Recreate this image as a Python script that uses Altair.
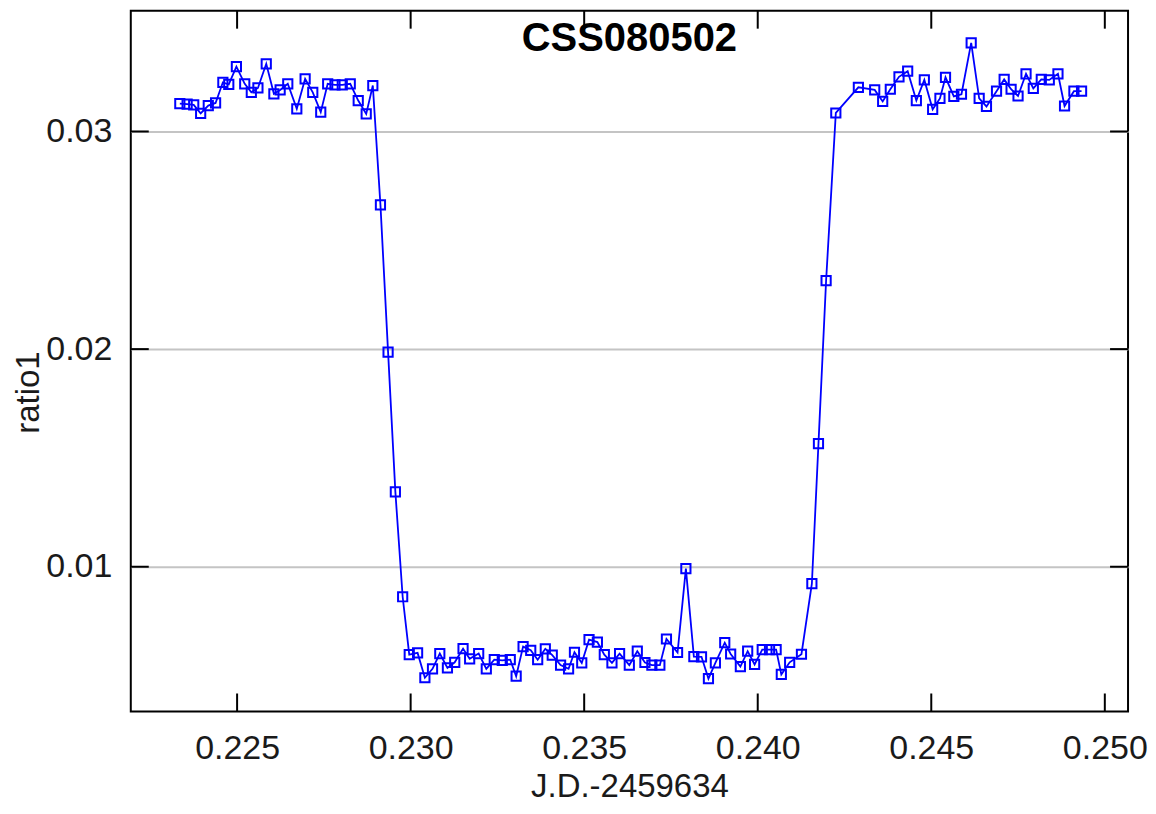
import altair as alt
import pandas as pd

# ---- data ----
jd = [
    0.22335, 0.22356, 0.22375, 0.22395, 0.22417, 0.22438, 0.22459, 0.22476, 0.22498, 0.22522,
    0.22541, 0.22560, 0.22584, 0.22606, 0.22624, 0.22646, 0.22672, 0.22696, 0.22718, 0.22741,
    0.22761, 0.22782, 0.22803, 0.22826, 0.22849, 0.22872, 0.22891,
    0.22913, 0.22935, 0.22956, 0.22977,
    0.22996, 0.23020, 0.23041, 0.23063, 0.23084, 0.23106, 0.23127, 0.23151, 0.23170, 0.23196,
    0.23218, 0.23241, 0.23264, 0.23287, 0.23304, 0.23324, 0.23346, 0.23366, 0.23388, 0.23408,
    0.23432, 0.23455, 0.23472, 0.23493, 0.23514, 0.23538, 0.23558, 0.23580, 0.23602, 0.23630,
    0.23653, 0.23675, 0.23695, 0.23718, 0.23737, 0.23769, 0.23793, 0.23816, 0.23838, 0.23858,
    0.23878, 0.23905, 0.23922, 0.23950, 0.23971, 0.23991, 0.24013, 0.24034, 0.24053, 0.24068,
    0.24092, 0.24126,
    0.24156, 0.24175, 0.24197, 0.24225,
    0.24290, 0.24337, 0.24360, 0.24382, 0.24407, 0.24432, 0.24457, 0.24480, 0.24504, 0.24525,
    0.24541, 0.24565, 0.24587, 0.24615, 0.24638, 0.24659, 0.24688, 0.24710, 0.24730, 0.24750,
    0.24773, 0.24794, 0.24817, 0.24840, 0.24865, 0.24884, 0.24911, 0.24933,
]
ratio1 = [
    0.03128, 0.03126, 0.03122, 0.03083, 0.03119, 0.03131, 0.03226, 0.03216, 0.03298, 0.03219,
    0.03180, 0.03200, 0.03311, 0.03173, 0.03191, 0.03219, 0.03104, 0.03242, 0.03180, 0.03089,
    0.03219, 0.03214, 0.03214, 0.03219, 0.03142, 0.03081, 0.03211,
    0.02663, 0.01986, 0.01344, 0.00862,
    0.00596, 0.00604, 0.00490, 0.00531, 0.00601, 0.00535, 0.00561, 0.00624, 0.00577, 0.00601,
    0.00531, 0.00573, 0.00570, 0.00573, 0.00497, 0.00633, 0.00616, 0.00573, 0.00623, 0.00594,
    0.00548, 0.00531, 0.00607, 0.00558, 0.00665, 0.00654, 0.00596, 0.00558, 0.00601, 0.00548,
    0.00612, 0.00560, 0.00548, 0.00548, 0.00668, 0.00606, 0.00991, 0.00587, 0.00586, 0.00486,
    0.00558, 0.00651, 0.00599, 0.00541, 0.00612, 0.00551, 0.00619, 0.00619, 0.00619, 0.00505,
    0.00561, 0.00598,
    0.00922, 0.01566, 0.02315, 0.03085,
    0.03203, 0.03191, 0.03138, 0.03194, 0.03251, 0.03277, 0.03142, 0.03237, 0.03102, 0.03152,
    0.03249, 0.03161, 0.03171, 0.03407, 0.03152, 0.03115, 0.03185, 0.03239, 0.03194, 0.03163,
    0.03265, 0.03198, 0.03239, 0.03237, 0.03265, 0.03117, 0.03185, 0.03185,
]
x_ticks = [0.225, 0.230, 0.235, 0.240, 0.245, 0.250]
y_ticks = [0.01, 0.02, 0.03]
title_text = ["CSS080502"]
x_title = "J.D.-2459634"
y_title = "ratio1"

W, H = 999, 702
FONT = "Liberation Sans"
BLUE = "#0000ff"

df = pd.DataFrame({"jd": jd, "ratio": ratio1, "idx": list(range(len(jd)))})
xt = pd.DataFrame({"t": x_ticks})
yt = pd.DataFrame({"t": y_ticks})

xscale = alt.Scale(domain=[0.221937, 0.250669], nice=False, zero=False)
yscale = alt.Scale(domain=[0.00335, 0.03555], nice=False, zero=False)

xaxis = alt.Axis(values=x_ticks, format=".3f", title=x_title, grid=False, ticks=False,
                 domain=False, labelPadding=20, titleY=85, titleX=W / 2,
                 titleBaseline="alphabetic", titleAlign="center")
yaxis = alt.Axis(values=y_ticks, format=".2f", title=y_title, grid=True, ticks=False,
                 domain=False, gridColor="#c4c4c4", gridWidth=2, labelPadding=19,
                 titleX=-102, titleY=382, titleAngle=270, titleBaseline="middle",
                 titleAlign="center")

base = alt.Chart(df)
line = base.mark_line(color=BLUE, strokeWidth=1.8).encode(
    x=alt.X("jd:Q", scale=xscale, axis=xaxis),
    y=alt.Y("ratio:Q", scale=yscale, axis=yaxis),
    order="idx:Q",
)
pts = base.mark_point(shape="square", filled=False, size=85, color=BLUE, strokeWidth=2,
                      opacity=1).encode(
    x=alt.X("jd:Q", scale=xscale),
    y=alt.Y("ratio:Q", scale=yscale),
)

TL = 18
xt_bottom = alt.Chart(xt).mark_rule(color="black", strokeWidth=2).encode(
    x=alt.X("t:Q", scale=xscale), y=alt.value(H), y2=alt.value(H - TL))
xt_top = alt.Chart(xt).mark_rule(color="black", strokeWidth=2).encode(
    x=alt.X("t:Q", scale=xscale), y=alt.value(0), y2=alt.value(TL))
yt_left = alt.Chart(yt).mark_rule(color="black", strokeWidth=2).encode(
    y=alt.Y("t:Q", scale=yscale), x=alt.value(0), x2=alt.value(TL))
yt_right = alt.Chart(yt).mark_rule(color="black", strokeWidth=2).encode(
    y=alt.Y("t:Q", scale=yscale), x=alt.value(W - TL), x2=alt.value(W))

title = alt.Chart(pd.DataFrame({"t": title_text})).mark_text(
    font=FONT, fontSize=40, fontWeight="bold", color="black", baseline="middle", align="center"
).encode(text="t:N", x=alt.value(W / 2), y=alt.value(28))

chart = alt.layer(line, pts, xt_bottom, xt_top, yt_left, yt_right, title).properties(
    width=W, height=H,
    autosize=alt.AutoSizeParams(type="none"),
    padding={"left": 123, "top": 2, "right": 20, "bottom": 94},
    background="white",
).configure_view(
    stroke="black", strokeWidth=2
).configure_axis(
    labelFont=FONT, labelFontSize=34, labelColor="#1a1a1a",
    titleFont=FONT, titleFontSize=33, titleFontWeight="normal", titleColor="#1a1a1a",
)

chart.save("out.html", embed_options={"renderer": "svg", "actions": False})
